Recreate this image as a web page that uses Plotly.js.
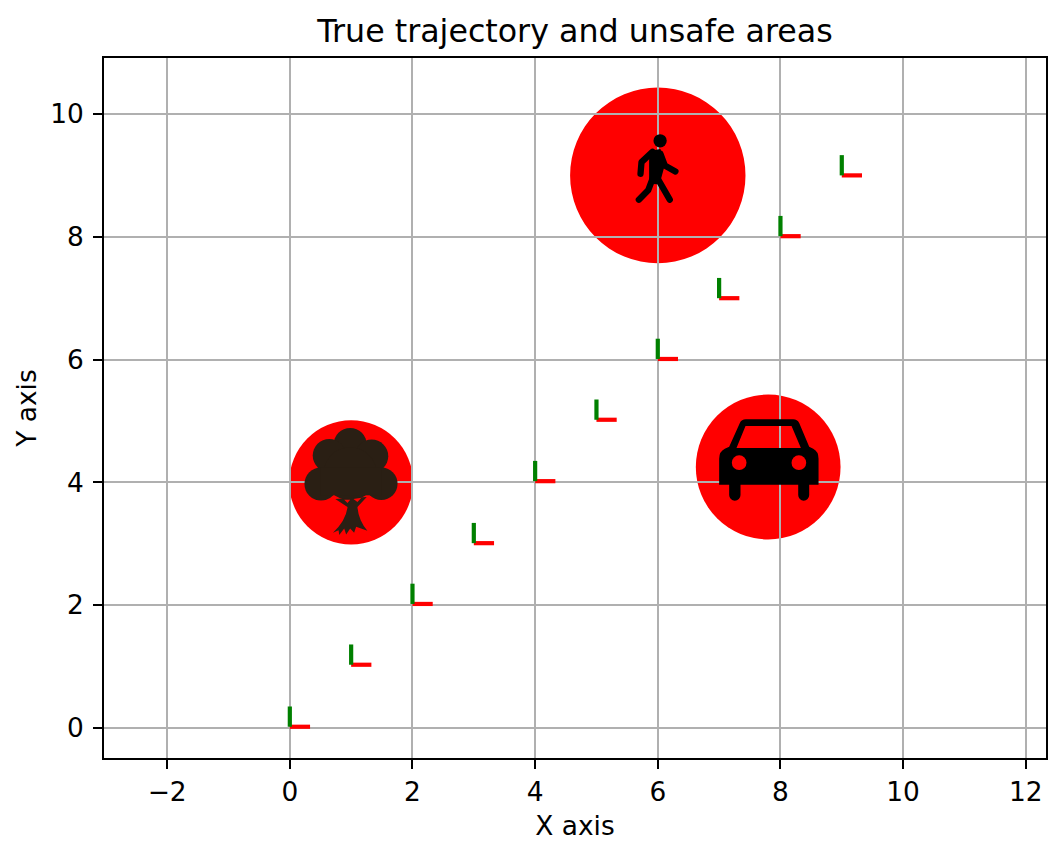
<!DOCTYPE html>
<html>
<head>
<meta charset="utf-8">
<script src="https://cdn.plot.ly/plotly-3.0.1.min.js"></script>
<style>
  html, body { margin: 0; padding: 0; background: #fff; }
</style>
</head>
<body>
<div id="chart" style="width:1060px;height:854px"></div>
<script>
// true trajectory, one pose per step
const poseX = [0, 1, 2, 3, 4, 5, 6, 7, 8, 9];
const poseY = [0.02, 1.03, 2.02, 3.01, 4.02, 5.02, 6.01, 7.0, 8.01, 9.0];
const axisLength = 0.33;

// unsafe areas
const areaNames = ['tree', 'car', 'person'];
const areaX = [1, 7.8, 6];
const areaY = [4, 4.25, 9];
const areaR = [1.01, 1.18, 1.43];

const tickVals = [-2, 0, 2, 4, 6, 8, 10, 12];
const yTickVals = [0, 2, 4, 6, 8, 10];

// icons are drawn in their own little coordinate systems, viewBox = the circle's box
const icons = {
  tree: `<svg xmlns="http://www.w3.org/2000/svg" viewBox="56 59 374 374"><g fill="#2a1f14">
    <circle cx="240" cy="132" r="50"/><circle cx="177" cy="165" r="50"/><circle cx="305" cy="167" r="50"/>
    <circle cx="152" cy="251" r="50"/><circle cx="334" cy="250" r="49"/><circle cx="240" cy="220" r="80"/>
    <rect x="150" y="200" width="185" height="85"/>
    <path d="M195 296L232 320Q228 360 188 398L205 390L207 405L222 385L228 403L240 385L252 398L258 380L292 392Q265 360 262 320L290 290Z"/></g>
    <path d="M222 298L240 298L232 308ZM250 296L274 292L262 305Z" fill="#f00"/></svg>`,
  car: `<svg xmlns="http://www.w3.org/2000/svg" viewBox="48 30 434 434">
    <path fill-rule="evenodd" d="M118 300L118 222Q118 200 135 192L148 186L180 115Q185 104 198 104L340 104Q352 104 358 115L388 186L400 192Q416 200 416 222L416 300ZM170 190L197 124L335 124L363 190Z"/>
    <path d="M148 298H182V331A17 17 0 0 1 148 331ZM355 298H388V331A16.500 17 0 0 1 355 331Z"/>
    <circle cx="178" cy="234" r="22" fill="#f00"/><circle cx="357" cy="234" r="22" fill="#f00"/></svg>`,
  person: `<svg xmlns="http://www.w3.org/2000/svg" viewBox="-90 -69 528 528">
    <circle cx="181" cy="91" r="20"/><path d="M148 122L182 116L196 160L182 212L172 222L148 220Z"/>
    <path d="M158 124L125 155L122 190M182 130L195 165L227 183M160 200L145 240L117 268M168 195L210 268" fill="none" stroke="#000" stroke-width="19" stroke-linecap="round" stroke-linejoin="round"/></svg>`
};

// body frame segments, null separated
const redX = [], redY = [], greenX = [], greenY = [];
poseX.forEach(function(px, i) {
  redX.push(px, px + axisLength, null);
  redY.push(poseY[i], poseY[i], null);
  greenX.push(px, px, null);
  greenY.push(poseY[i], poseY[i] + axisLength, null);
});

const traces = [
  {x: redX, y: redY, mode: 'lines', line: {color: '#ff0000', width: 4.2}, hoverinfo: 'skip'},
  {x: greenX, y: greenY, mode: 'lines', line: {color: '#008000', width: 4.2}, hoverinfo: 'skip'}
];

const shapes = areaNames.map(function(name, i) {
  return {
    type: 'circle', layer: 'below', xref: 'x', yref: 'y',
    x0: areaX[i] - areaR[i], x1: areaX[i] + areaR[i],
    y0: areaY[i] - areaR[i], y1: areaY[i] + areaR[i],
    fillcolor: '#ff0000', line: {width: 0}
  };
});

const images = areaNames.map(function(name, i) {
  return {
    source: 'data:image/svg+xml;charset=utf-8,' + encodeURIComponent(icons[name]),
    xref: 'x', yref: 'y', x: areaX[i] - areaR[i], y: areaY[i] + areaR[i],
    sizex: 2 * areaR[i], sizey: 2 * areaR[i], sizing: 'stretch',
    xanchor: 'left', yanchor: 'top', layer: 'above'
  };
});

const axisFont = {family: 'DejaVu Sans', size: 26.4, color: '#000'};
const baseAxis = {
  showgrid: true, gridcolor: '#b0b0b0', gridwidth: 2, zeroline: false,
  showline: true, mirror: true, linecolor: '#000', linewidth: 2,
  ticks: 'outside', ticklen: 9, tickwidth: 2, tickcolor: '#000',
  tickfont: axisFont, automargin: false
};

const layout = {
  width: 1060, height: 854,
  margin: {l: 104, r: 14, t: 58, b: 96},
  paper_bgcolor: '#fff', plot_bgcolor: '#fff',
  showlegend: false,
  font: {family: 'DejaVu Sans', color: '#000'},
  title: {
    text: 'True trajectory and unsafe areas',
    font: {family: 'DejaVu Sans', size: 31.7, color: '#000'},
    xref: 'paper', x: 0.5, xanchor: 'center',
    yref: 'container', y: 0.9637, yanchor: 'middle'
  },
  xaxis: Object.assign({}, baseAxis, {
    range: [-3.03, 12.33], tickmode: 'array', tickvals: tickVals,
    title: {text: 'X axis', font: axisFont, standoff: 11}
  }),
  yaxis: Object.assign({}, baseAxis, {
    range: [-0.489, 10.912], tickmode: 'array', tickvals: yTickVals,
    ticklabelstandoff: 4,
    title: {text: 'Y axis', font: axisFont, standoff: 6}
  }),
  shapes: shapes,
  images: images
};

Plotly.newPlot('chart', traces, layout, {displayModeBar: false, staticPlot: true});
</script>
</body>
</html>
